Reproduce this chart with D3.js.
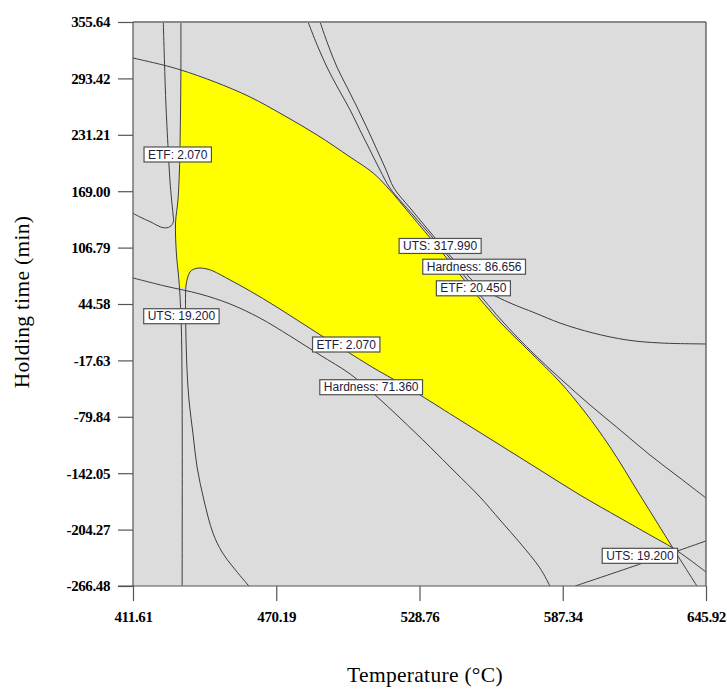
<!DOCTYPE html>
<html>
<head>
<meta charset="utf-8">
<script src="https://cdn.jsdelivr.net/npm/d3@7"></script>
<style>
  body { margin: 0; background: #ffffff; }
  svg { display: block; }
</style>
</head>
<body>
<svg id="chart" width="727" height="689"></svg>
<script>
// Axis ticks (Temperature in °C, Holding time in min)
const xTickValues = [411.61, 470.19, 528.76, 587.34, 645.92];
const xTickLabels = ["411.61", "470.19", "528.76", "587.34", "645.92"];
const yTickValues = [355.64, 293.42, 231.21, 169.00, 106.79, 44.58, -17.63, -79.84, -142.05, -204.27, -266.48];
const yTickLabels = ["355.64", "293.42", "231.21", "169.00", "106.79", "44.58", "-17.63", "-79.84", "-142.05", "-204.27", "-266.48"];

// Contour lines: [temperature, holding time]
const utsHigh = [[411.6,315.9],[423.9,308.2],[431.2,302.7],[445.1,289.5],[459.5,272.9],[473.0,253.1],[486.9,231.0],[500.4,206.7],[509.8,189.1],[515.9,172.5],[524.9,143.9],[537.2,104.1],[549.4,63.3],[561.7,24.7],[574.0,-8.4],[586.2,-41.5],[596.4,-74.6],[606.7,-113.2],[618.9,-166.1],[632.4,-224.6],[642.2,-266.5]];
const hardnessHigh = [[483.2,355.6],[486.9,330.3],[490.9,306.0],[495.4,282.8],[500.4,258.6],[504.4,236.5],[508.5,214.5],[512.6,192.4],[516.7,172.5],[526.5,141.6],[538.8,103.0],[551.1,62.2],[563.3,23.6],[575.6,-10.6],[587.0,-39.3],[598.5,-66.8],[610.8,-94.4],[623.0,-122.0],[635.3,-147.4],[645.9,-169.4]];
const etfHigh = [[488.1,355.6],[491.4,330.3],[495.0,306.0],[499.1,283.9],[503.2,261.9],[507.3,238.7],[511.4,214.5],[515.1,192.4],[518.3,172.5],[524.9,150.5],[533.1,124.0],[542.1,95.3],[550.2,71.1],[557.6,56.7],[565.8,45.7],[576.0,34.7],[586.2,23.6],[599.7,12.6],[613.6,4.9],[627.1,1.6],[645.9,0.5]];
const etfLowUpper = [[424.0,355.6],[425.0,269.6],[426.0,214.5],[426.7,181.4],[427.4,159.3],[428.0,142.8],[428.1,135.0],[426.7,129.8],[424.0,128.7],[418.6,135.4],[414.9,140.0],[411.6,144.6]];
const etfLowLower = [[459.0,-266.5],[452.5,-245.5],[448.0,-229.0],[444.3,-208.0],[440.6,-171.6],[437.8,-135.2],[436.2,-99.9],[434.5,-61.3],[433.7,-28.2],[433.3,4.9],[433.1,38.0],[433.1,54.5],[433.3,65.5],[433.9,73.3],[434.9,79.9],[436.6,83.2],[439.0,84.3],[441.9,83.2],[444.3,81.0],[451.3,71.1],[459.5,58.9],[469.7,42.4],[478.7,26.9],[488.9,9.3],[499.5,-8.4],[509.3,-24.9],[520.8,-42.6],[529.0,-55.8],[545.3,-83.4],[561.7,-111.0],[578.0,-138.5],[594.4,-166.1],[610.8,-191.5],[623.0,-210.2],[632.4,-224.6],[639.4,-237.8],[645.9,-251.0]];
const utsLowLeft = [[431.2,355.6],[431.2,302.7],[431.0,247.5],[430.6,192.4],[430.0,159.3],[429.0,133.9],[429.4,98.6],[430.2,76.6],[430.8,54.5],[431.4,15.9],[431.7,-61.3],[431.7,-266.5]];
const utsLowRight = [[592.4,-266.5],[620.2,-241.1],[645.9,-216.8]];
const hardnessLow = [[411.6,73.3],[424.7,64.4],[439.0,55.6],[451.3,44.6],[463.5,29.1],[475.8,9.3],[488.1,-11.7],[500.4,-32.6],[510.6,-55.8],[520.8,-81.2],[533.1,-113.2],[543.3,-140.7],[553.5,-168.3],[561.7,-193.7],[569.9,-219.1],[578.0,-246.6],[582.1,-266.5]];

// Region where every response meets its limits
const feasibleRegion = [[431.2,302.7],[445.1,289.5],[459.5,272.9],[473.0,253.1],[486.9,231.0],[500.4,206.7],[509.8,189.1],[515.9,172.5],[524.9,143.9],[537.2,104.1],[549.4,63.3],[561.7,24.7],[574.0,-8.4],[586.2,-41.5],[596.4,-74.6],[606.7,-113.2],[618.9,-166.1],[632.4,-224.6],[623.0,-210.2],[610.8,-191.5],[594.4,-166.1],[578.0,-138.5],[561.7,-111.0],[545.3,-83.4],[529.0,-55.8],[520.8,-42.6],[509.3,-24.9],[499.5,-8.4],[488.9,9.3],[478.7,26.9],[469.7,42.4],[459.5,58.9],[451.3,71.1],[444.3,81.0],[441.9,83.2],[439.0,84.3],[436.6,83.2],[434.9,79.9],[433.9,73.3],[433.3,65.5],[433.2,62.2],[430.7,63.3],[430.2,76.6],[429.4,98.6],[429.0,133.9],[430.0,159.3],[430.6,192.4],[431.0,247.5],[431.2,302.7]];

// Contour labels placed on their lines
const contourLabels = [
  { text: "ETF: 2.070", t: 429.9, h: 209.5 },
  { text: "UTS: 19.200", t: 431.4, h: 31.1 },
  { text: "UTS: 317.990", t: 537.2, h: 108.6 },
  { text: "Hardness: 86.656", t: 551.1, h: 85.7 },
  { text: "ETF: 20.450", t: 550.8, h: 61.9 },
  { text: "ETF: 2.070", t: 498.8, h: -0.1 },
  { text: "Hardness: 71.360", t: 509.0, h: -47.2 },
  { text: "UTS: 19.200", t: 618.9, h: -233.2 }
];

const contourLines = [utsHigh, hardnessHigh, etfHigh, etfLowUpper, etfLowLower, utsLowLeft, utsLowRight, hardnessLow];

const plot = { left: 133, right: 706, top: 22, bottom: 586 };
const svg = d3.select("#chart");

const x = d3.scaleLinear().domain([411.61, 645.92]).range([plot.left, plot.right]);
const y = d3.scaleLinear().domain([-266.48, 355.64]).range([plot.bottom, plot.top]);

svg.append("defs").append("clipPath").attr("id", "plot-clip")
  .append("rect")
  .attr("x", plot.left).attr("y", plot.top)
  .attr("width", plot.right - plot.left).attr("height", plot.bottom - plot.top);

// Background of the design space
svg.append("rect")
  .attr("x", plot.left).attr("y", plot.top)
  .attr("width", plot.right - plot.left).attr("height", plot.bottom - plot.top)
  .attr("fill", "#dcdcdc");

const g = svg.append("g").attr("clip-path", "url(#plot-clip)");

// Feasible (yellow) window
g.append("path")
  .datum(feasibleRegion)
  .attr("d", d3.line().x(d => x(d[0])).y(d => y(d[1])).curve(d3.curveLinearClosed))
  .attr("fill", "#ffff00")
  .attr("stroke", "none");

// Contour lines
const lineGen = d3.line().x(d => x(d[0])).y(d => y(d[1])).curve(d3.curveCatmullRom.alpha(0.5));
g.selectAll("path.contour")
  .data(contourLines)
  .join("path")
  .attr("class", "contour")
  .attr("d", lineGen)
  .attr("fill", "none")
  .attr("stroke", "#3c3c3c")
  .attr("stroke-width", 1);

// Frame
svg.append("line").attr("x1", plot.left).attr("x2", plot.right).attr("y1", plot.top).attr("y2", plot.top)
  .attr("stroke", "#8a8a8a").attr("stroke-width", 2);
svg.append("line").attr("x1", plot.right).attr("x2", plot.right).attr("y1", plot.top).attr("y2", plot.bottom)
  .attr("stroke", "#4a4a4a").attr("stroke-width", 1.2);

// Axes
const xAxis = d3.axisBottom(x).tickValues(xTickValues)
  .tickFormat((d, i) => xTickLabels[i]).tickSize(15).tickPadding(10);
const yAxis = d3.axisLeft(y).tickValues(yTickValues)
  .tickFormat((d, i) => yTickLabels[i]).tickSize(15).tickPadding(8);

const gx = svg.append("g").attr("transform", `translate(0,${plot.bottom})`).call(xAxis);
const gy = svg.append("g").attr("transform", `translate(${plot.left},0)`).call(yAxis);

[gx, gy].forEach(a => {
  a.select(".domain").attr("stroke", "#555555").attr("stroke-width", 1.2);
  a.selectAll(".tick line").attr("stroke", "#555555").attr("stroke-width", 1.2);
  a.selectAll(".tick text")
    .attr("fill", "#000000")
    .style("font-family", "'Liberation Serif', 'Times New Roman', serif")
    .style("font-weight", "bold")
    .style("font-size", "15px")
    .style("letter-spacing", "-0.4px");
});
gy.select(".domain").attr("d", `M0,${plot.top}V${plot.bottom}`);
gx.select(".domain").attr("d", `M${plot.left - 15},0H${plot.right}`);

// Contour labels
const labelG = svg.append("g");
contourLabels.forEach(lab => {
  const cx = x(lab.t), cy = y(lab.h);
  const grp = labelG.append("g");
  const rect = grp.append("rect");
  const txt = grp.append("text")
    .attr("x", cx).attr("y", cy + 4.2)
    .attr("text-anchor", "middle")
    .style("font-family", "'Liberation Sans', Arial, sans-serif")
    .style("font-size", "12px")
    .attr("fill", "#20203a")
    .text(lab.text);
  const w = txt.node().getComputedTextLength() + 8;
  rect.attr("x", cx - w / 2).attr("y", cy - 7.5)
    .attr("width", w).attr("height", 15)
    .attr("fill", "#ffffff")
    .attr("stroke", "#505050")
    .attr("stroke-width", 1.2);
});

// Axis titles
svg.append("text")
  .attr("x", 425).attr("y", 682)
  .attr("text-anchor", "middle")
  .style("font-family", "'Liberation Serif', 'Times New Roman', serif")
  .style("font-size", "21.5px")
  .style("letter-spacing", "0.3px")
  .attr("fill", "#000")
  .text("Temperature (°C)");

svg.append("text")
  .attr("transform", "translate(29,302) rotate(-90)")
  .attr("text-anchor", "middle")
  .style("font-family", "'Liberation Serif', 'Times New Roman', serif")
  .style("font-size", "21.5px")
  .style("letter-spacing", "0.3px")
  .attr("fill", "#000")
  .text("Holding time (min)");
</script>
</body>
</html>
